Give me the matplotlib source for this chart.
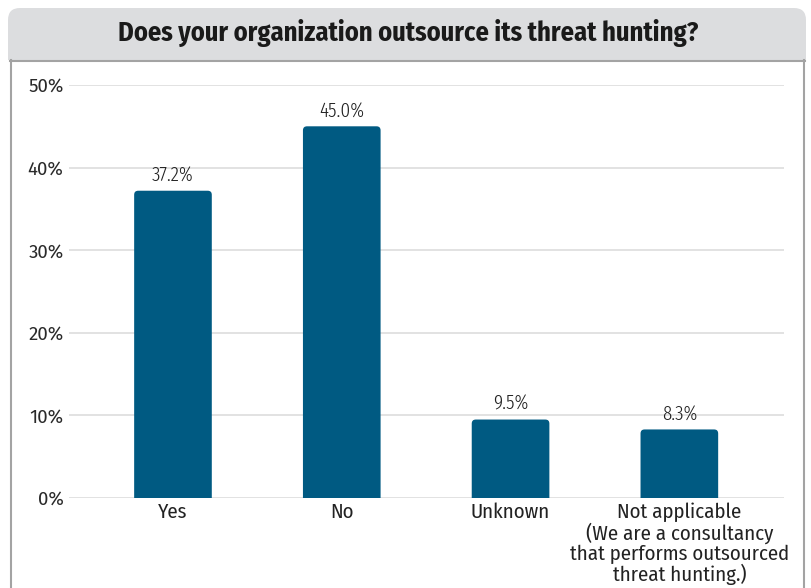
import matplotlib
matplotlib.use("Agg")
import matplotlib.pyplot as plt
from matplotlib.patches import FancyBboxPatch

# Survey answers
answers = ["Yes", "No", "Unknown",
           "Not applicable\n(We are a consultancy\nthat performs outsourced\nthreat hunting.)"]
shares = [37.2, 45.0, 9.5, 8.3]
yticks = [0, 10, 20, 30, 40, 50]

cond = ["Fira Sans Condensed", "DejaVu Sans"]
xcond = ["Fira Sans Extra Condensed", "Fira Sans Condensed", "DejaVu Sans"]
regular = ["Fira Sans", "DejaVu Sans"]

bar_color = "#005a82"
border = "#a3a3a3"

fig = plt.figure(figsize=(8.11, 5.88), dpi=100)

# Frame drawn in pixel coordinates
bg = fig.add_axes([0, 0, 1, 1], zorder=0)
bg.set_xlim(0, 811)
bg.set_ylim(588, 0)
bg.axis("off")
bg.add_patch(FancyBboxPatch((8, 8), 798, 70, boxstyle="round,pad=0,rounding_size=12",
                            facecolor="#dcdddf", edgecolor="none"))
bg.add_patch(plt.Rectangle((8, 60), 798, 540, facecolor="white", edgecolor="none"))
bg.plot([10, 805], [60.5, 60.5], color=border, lw=1.5)
bg.plot([11, 11], [60, 588], color=border, lw=1.5)
bg.plot([804, 804], [60, 588], color=border, lw=1.5)
bg.text(408, 33, "Does your organization outsource its threat hunting?",
        ha="center", va="center", fontsize=19, fontweight="bold",
        family=cond, color="#1a1a1a")

ax = fig.add_axes([69 / 811, 1 - 498 / 588, (784 - 69) / 811, (498 - 85) / 588], zorder=1)
ax.patch.set_visible(False)
ax.set_xlim(-0.616, 3.62)
ax.set_ylim(0, 50)

x = range(len(answers))
bars = ax.bar(x, shares, width=0.46, color=bar_color, zorder=3)

# swap plain bars for ones with softly rounded tops
xr = 0.024
aspect = (50 / 413) / (4.236 / 715)
for rect in bars:
    rect.set_visible(False)
    ax.add_patch(FancyBboxPatch((rect.get_x(), -2), rect.get_width(), rect.get_height() + 2,
                                boxstyle=f"round,pad=0,rounding_size={xr}",
                                mutation_aspect=aspect, facecolor=bar_color,
                                edgecolor="none", zorder=3))

for rect, v in zip(bars, shares):
    ax.text(rect.get_x() + rect.get_width() / 2, v + 0.7, f"{v:.1f}%",
            ha="center", va="bottom", fontsize=15, family=xcond, fontweight=300,
            color="#222222")

ax.set_yticks(yticks)
ax.set_yticklabels([f"{t}%" for t in yticks], family=regular, fontsize=13.5, color="#2a2a2a")
ax.set_xticks(list(x))
ax.set_xticklabels(answers, family=cond, fontsize=15, color="#222222", linespacing=1.03)
ax.tick_params(axis="both", length=0)
ax.tick_params(axis="y", pad=4)
ax.tick_params(axis="x", pad=3)
ax.grid(axis="y", color="#dddddd", lw=1.2, zorder=0)
for s in ax.spines.values():
    s.set_visible(False)

fig.savefig("out.png", dpi=100)
